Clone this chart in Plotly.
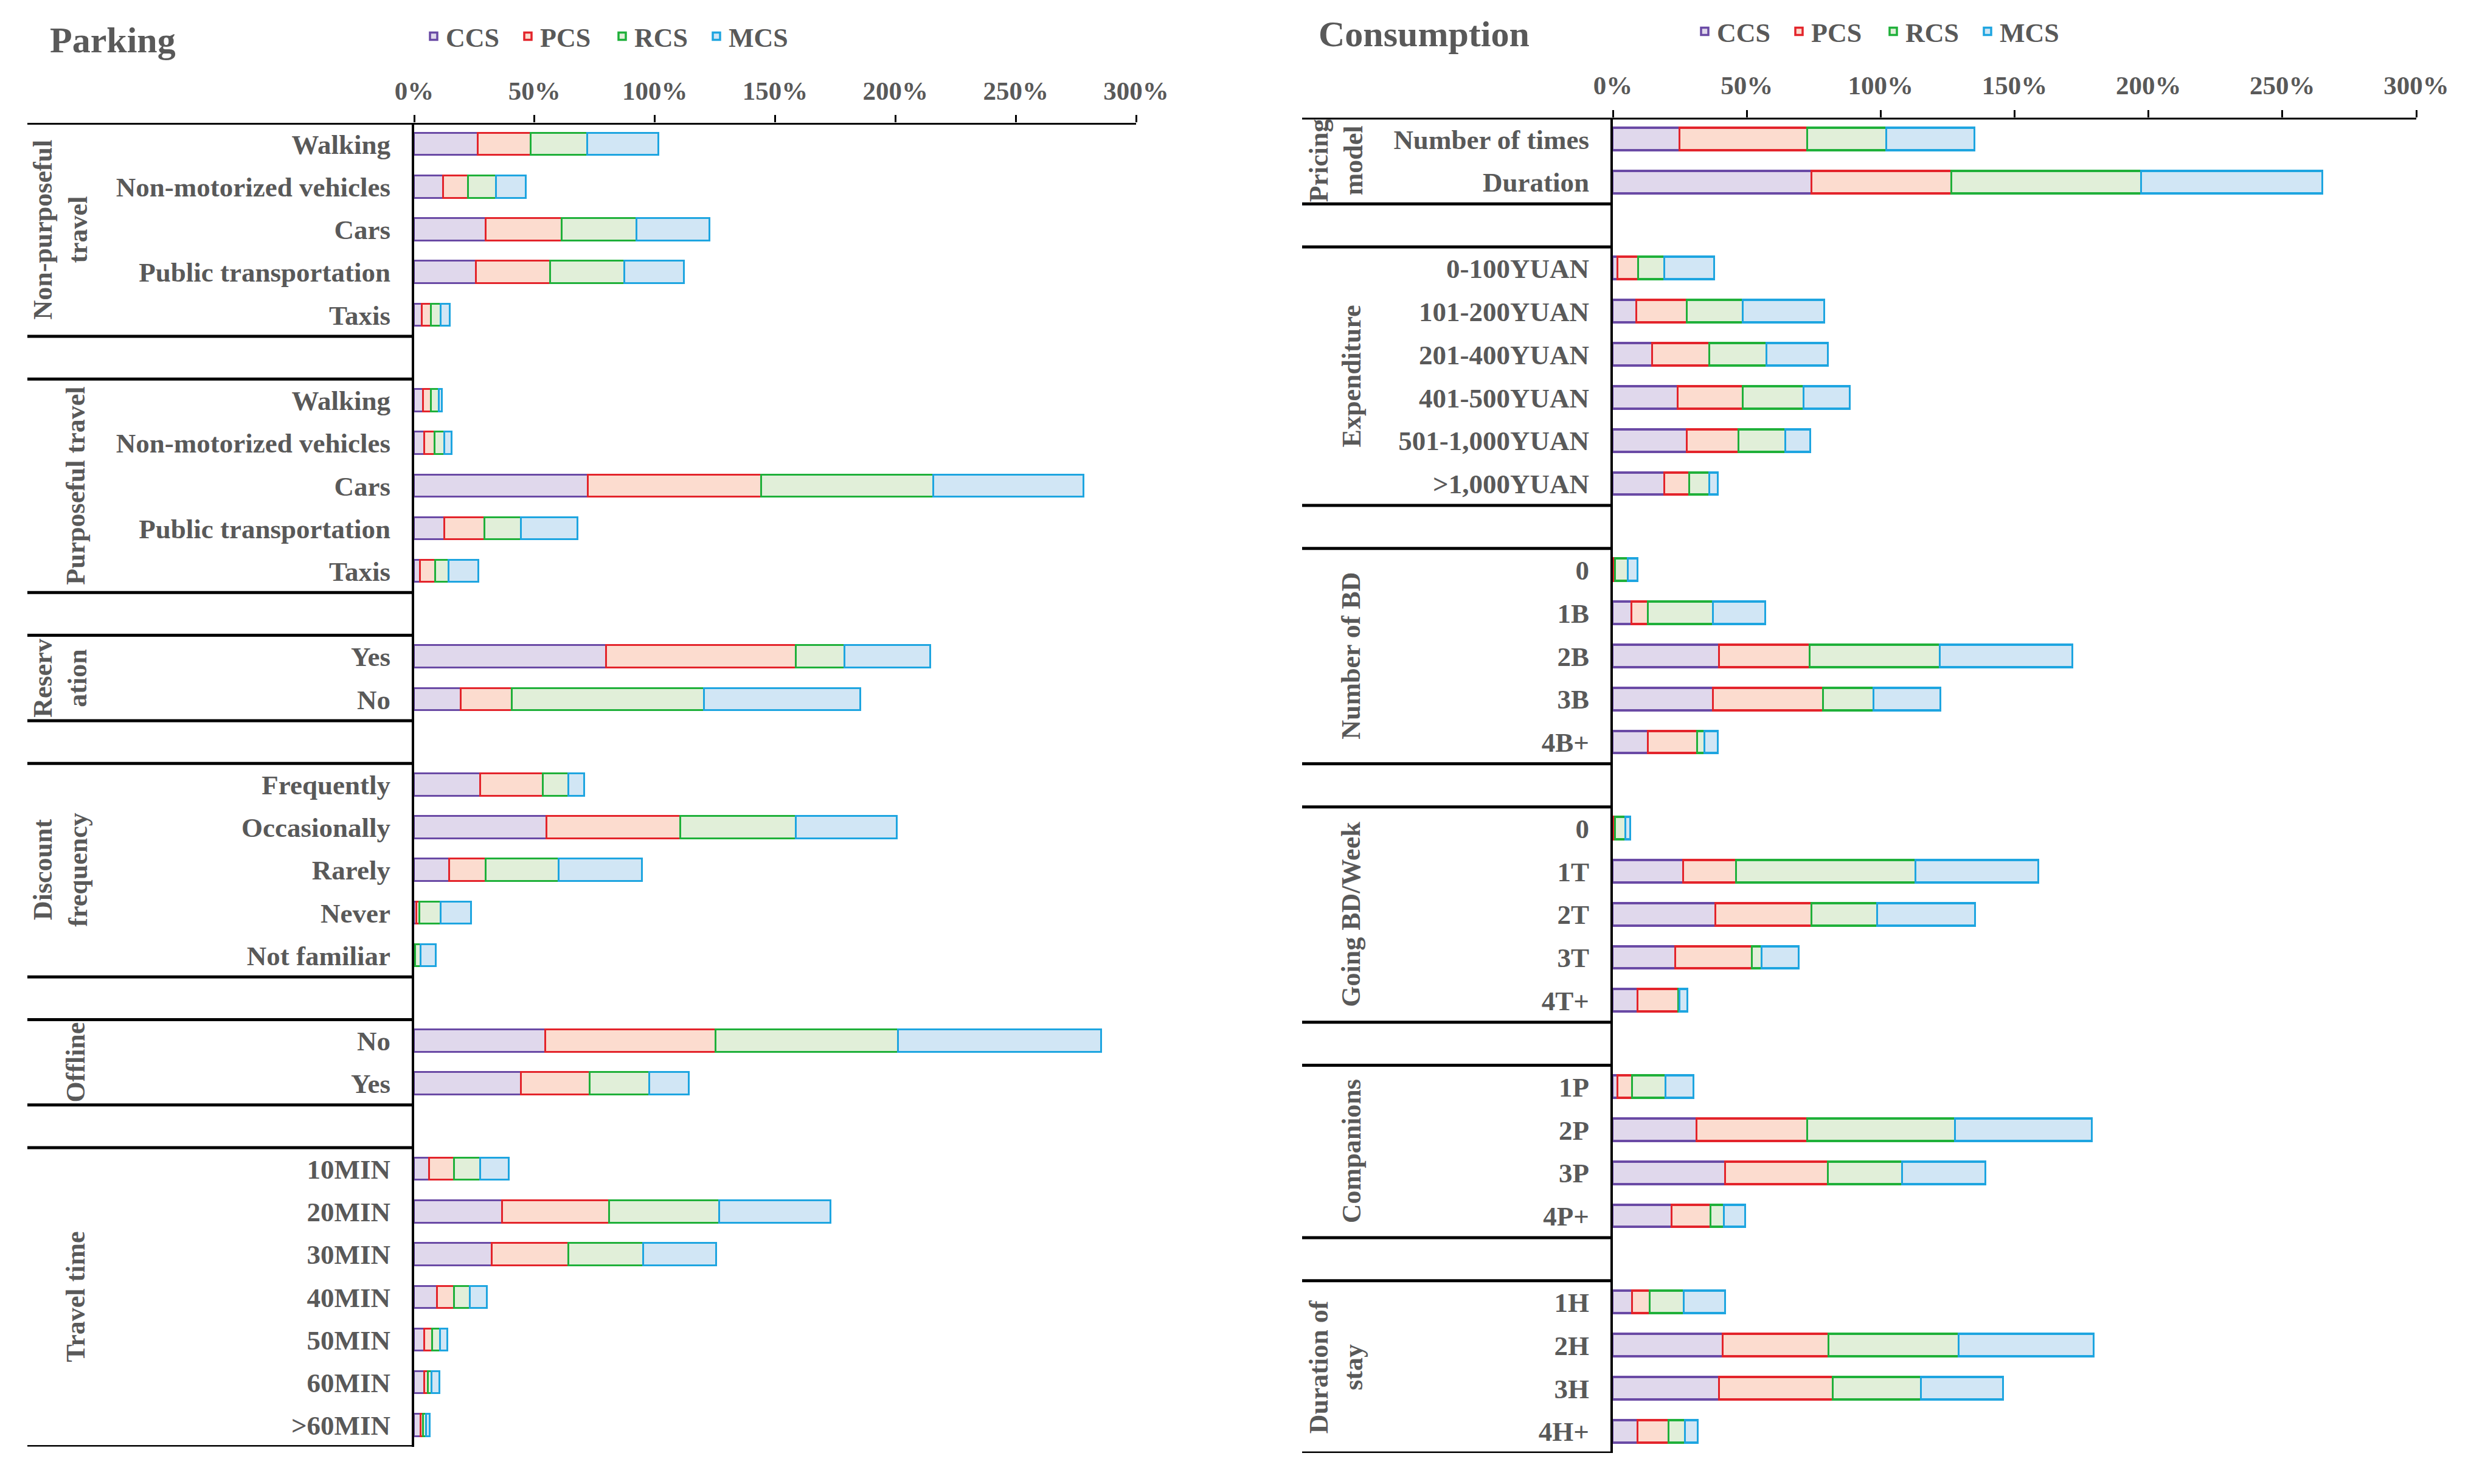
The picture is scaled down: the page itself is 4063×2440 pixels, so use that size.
import plotly.graph_objects as go

W, H = 4063, 2440          # reference picture size
OFF = 8                    # default page margin of the html body
FW, FH = W - 2 * OFF, H - 2 * OFF   # figure size so that the page fits the window
FONT = "Liberation Serif"
GRAY = "#595959"

SERIES = ["CCS", "PCS", "RCS", "MCS"]
FILL = ["#e0d8ec", "#fcdccf", "#e1efd9", "#d1e6f5"]
EDGE = ["#6a4aa5", "#e3242b", "#1fb03a", "#1ea5e0"]

TICK_VALS = [0, 50, 100, 150, 200, 250, 300]
TICK_TEXT = ["0%", "50%", "100%", "150%", "200%", "250%", "300%"]

# ---------------- Parking panel ----------------
park_groups = ["Non-purposeful<br>travel", "Purposeful travel", "Reserv<br>ation",
               "Discount<br>frequency", "Offline", "Travel time"]
park_cats = [
    ["Walking", "Non-motorized vehicles", "Cars", "Public transportation", "Taxis"],
    ["Walking", "Non-motorized vehicles", "Cars", "Public transportation", "Taxis"],
    ["Yes", "No"],
    ["Frequently", "Occasionally", "Rarely", "Never", "Not familiar"],
    ["No", "Yes"],
    ["10MIN", "20MIN", "30MIN", "40MIN", "50MIN", "60MIN", ">60MIN"],
]
park_ccs = [[26.5, 12.1, 29.9, 25.8, 3.2], [3.8, 4.4, 72.4, 12.7, 2.6], [79.9, 19.5],
            [27.6, 55.2, 14.6, 1.0, 0.3], [54.5, 44.5], [6.3, 36.6, 32.4, 9.5, 4.4, 4.4, 2.9]]
park_pcs = [[22.0, 10.5, 31.6, 30.9, 3.9], [3.3, 4.1, 71.8, 16.5, 6.2], [78.9, 21.1],
            [26.0, 55.5, 15.3, 1.2, 0.3], [70.8, 28.6], [10.5, 44.5, 31.8, 7.3, 3.3, 1.4, 1.0]]
park_rcs = [[23.6, 11.5, 30.9, 30.8, 4.1], [3.3, 4.2, 71.7, 15.3, 5.5], [20.1, 79.9],
            [10.7, 48.1, 30.2, 9.0, 2.3], [76.0, 24.6], [10.8, 45.7, 31.2, 6.5, 3.2, 1.5, 1.2]]
park_mcs = [[29.5, 12.5, 30.4, 24.7, 3.7], [1.3, 2.9, 62.3, 23.4, 12.6], [35.7, 64.9],
            [6.5, 41.8, 34.7, 12.6, 6.3], [84.4, 16.6], [11.8, 46.2, 30.1, 7.0, 3.1, 3.3, 1.5]]

# ---------------- Consumption panel ----------------
cons_groups = ["Pricing<br>model", "Expenditure", "Number of BD", "Going BD/Week",
               "Companions", "Duration of<br>stay"]
cons_cats = [
    ["Number of times", "Duration"],
    ["0-100YUAN", "101-200YUAN", "201-400YUAN", "401-500YUAN", "501-1,000YUAN", ">1,000YUAN"],
    ["0", "1B", "2B", "3B", "4B+"],
    ["0", "1T", "2T", "3T", "4T+"],
    ["1P", "2P", "3P", "4P+"],
    ["1H", "2H", "3H", "4H+"],
]
cons_ccs = [[25.0, 74.3], [1.8, 8.8, 14.8, 24.4, 27.8, 19.2], [0.5, 7.1, 39.7, 37.5, 13.2],
            [0.5, 26.3, 38.3, 23.5, 9.3], [1.8, 31.4, 41.9, 22.0], [7.3, 41.1, 39.7, 9.4]]
cons_pcs = [[47.7, 52.1], [7.7, 19.0, 21.4, 24.1, 19.1, 9.5], [0.5, 6.1, 33.8, 41.1, 18.3],
            [0.3, 19.7, 36.0, 28.5, 15.3], [5.4, 41.2, 38.6, 14.6], [6.6, 39.5, 42.4, 11.5]]
cons_rcs = [[29.5, 70.9], [9.7, 20.8, 21.2, 22.9, 17.7, 7.4], [4.7, 24.3, 48.6, 18.9, 2.8],
            [4.0, 67.2, 24.4, 3.7, 0.4], [12.5, 55.2, 27.5, 5.0], [12.7, 48.7, 33.1, 6.1]]
cons_mcs = [[32.9, 67.8], [18.7, 30.4, 23.0, 17.2, 9.3, 3.2], [3.5, 19.4, 49.5, 24.9, 4.9],
            [1.7, 45.8, 36.6, 13.7, 3.0], [10.5, 51.2, 31.2, 7.9], [15.5, 50.3, 30.6, 4.8]]


def px(x):
    """reference pixel x -> paper fraction"""
    return (x - OFF) / FW


def py(y):
    """reference pixel y -> paper fraction"""
    return 1 - (y - OFF) / FH


def build_rows(cats, *series):
    """Flatten grouped data into rows, inserting one blank row between groups."""
    labels, pos, vals = [], [], [[] for _ in series]
    spans = []
    r = 0
    for gi, group in enumerate(cats):
        start = r
        for ci, c in enumerate(group):
            labels.append(c)
            pos.append(r)
            for si, s in enumerate(series):
                vals[si].append(s[gi][ci])
            r += 1
        spans.append((start, r - 1))
        if gi < len(cats) - 1:
            r += 1  # blank separator row
    return labels, pos, vals, spans, r


fig = go.Figure()

panels = [
    dict(xa="x", ya="y", legend="legend", groups=park_groups,
         cats=park_cats, series=[park_ccs, park_pcs, park_rcs, park_mcs],
         xdom=(681, 1868), ydom=(202, 2378.5), line_x0=45, glabel_x=(99, 125)),
    dict(xa="x2", ya="y2", legend="legend2", groups=cons_groups,
         cats=cons_cats, series=[cons_ccs, cons_pcs, cons_rcs, cons_mcs],
         xdom=(2652, 3973), ydom=(193.5, 2389), line_x0=2141, glabel_x=(2197, 2222)),
]

shapes = []
annotations = []
axes = {}
for p in panels:
    labels, pos, vals, spans, nrows = build_rows(p["cats"], *p["series"])
    for si, name in enumerate(SERIES):
        fig.add_trace(go.Bar(
            x=vals[si], y=pos, orientation="h", name=name,
            xaxis=p["xa"], yaxis=p["ya"], legend=p["legend"],
            width=0.52,
            marker=dict(color=FILL[si], line=dict(color=EDGE[si], width=3.5)),
        ))
    xname = "xaxis" + p["xa"][1:]
    yname = "yaxis" + p["ya"][1:]
    axes[xname] = dict(
        domain=[px(p["xdom"][0]), px(p["xdom"][1])], range=[0, 300], side="top",
        anchor=p["ya"], tickvals=TICK_VALS, ticktext=TICK_TEXT,
        ticks="outside", ticklen=12, tickwidth=3, tickcolor="black",
        showgrid=False, zeroline=False, showline=False,
        tickfont=dict(family=FONT, size=43, color=GRAY, weight="bold"),
        ticklabelstandoff=8, automargin=False, fixedrange=True,
    )
    axes[yname] = dict(
        domain=[py(p["ydom"][1]), py(p["ydom"][0])],
        range=[nrows - 0.5, -0.5], anchor=p["xa"],
        tickvals=pos, ticktext=labels, ticks="", showgrid=False, zeroline=False,
        showline=True, linecolor="black", linewidth=4,
        tickfont=dict(family=FONT, size=45, color=GRAY, weight="bold"),
        ticklabelstandoff=26, automargin=False, fixedrange=True,
    )
    x0 = px(p["line_x0"])
    xaxis_px = px(p["xdom"][0])
    # top line across the whole panel
    shapes.append(dict(type="line", xref="paper", yref=p["ya"], x0=x0, x1=px(p["xdom"][1]),
                       y0=-0.5, y1=-0.5, line=dict(color="black", width=6)))
    for gi, (a, b) in enumerate(spans):
        if gi > 0:
            shapes.append(dict(type="line", xref="paper", yref=p["ya"], x0=x0, x1=xaxis_px,
                               y0=a - 0.5, y1=a - 0.5, line=dict(color="black", width=5)))
        shapes.append(dict(type="line", xref="paper", yref=p["ya"], x0=x0, x1=xaxis_px,
                           y0=b + 0.5, y1=b + 0.5, line=dict(color="black", width=5)))
        gname = p["groups"][gi]
        gx = p["glabel_x"][0] if "<br>" in gname else p["glabel_x"][1]
        annotations.append(dict(
            text=gname, xref="paper", yref=p["ya"], x=px(gx), y=(a + b) / 2,
            xanchor="center", yanchor="middle", textangle=-90, showarrow=False,
            font=dict(family=FONT, size=44, color=GRAY, weight="bold"),
        ))

annotations.append(dict(text="Parking", xref="paper", yref="paper", x=px(80), y=py(66),
                        xanchor="left", yanchor="middle", showarrow=False,
                        font=dict(family=FONT, size=60, color=GRAY, weight="bold")))
annotations.append(dict(text="Consumption", xref="paper", yref="paper", x=px(2166), y=py(56),
                        xanchor="left", yanchor="middle", showarrow=False,
                        font=dict(family=FONT, size=60, color=GRAY, weight="bold")))

legend_style = dict(orientation="h", xanchor="left", yanchor="middle",
                    font=dict(family=FONT, size=44, color=GRAY, weight="bold"),
                    bgcolor="rgba(0,0,0,0)", entrywidth=110, entrywidthmode="pixels",
                    traceorder="normal", itemclick=False, itemdoubleclick=False)

fig.update_layout(
    width=FW, height=FH, margin=dict(l=0, r=0, t=0, b=0),
    paper_bgcolor="white", plot_bgcolor="white",
    barmode="stack", bargap=0, showlegend=True,
    legend=dict(x=px(693), y=py(60), **legend_style),
    legend2=dict(x=px(2783), y=py(52), **legend_style),
    shapes=shapes, annotations=annotations,
    font=dict(family=FONT, color=GRAY),
    **axes,
)

fig.write_html("out.html")
